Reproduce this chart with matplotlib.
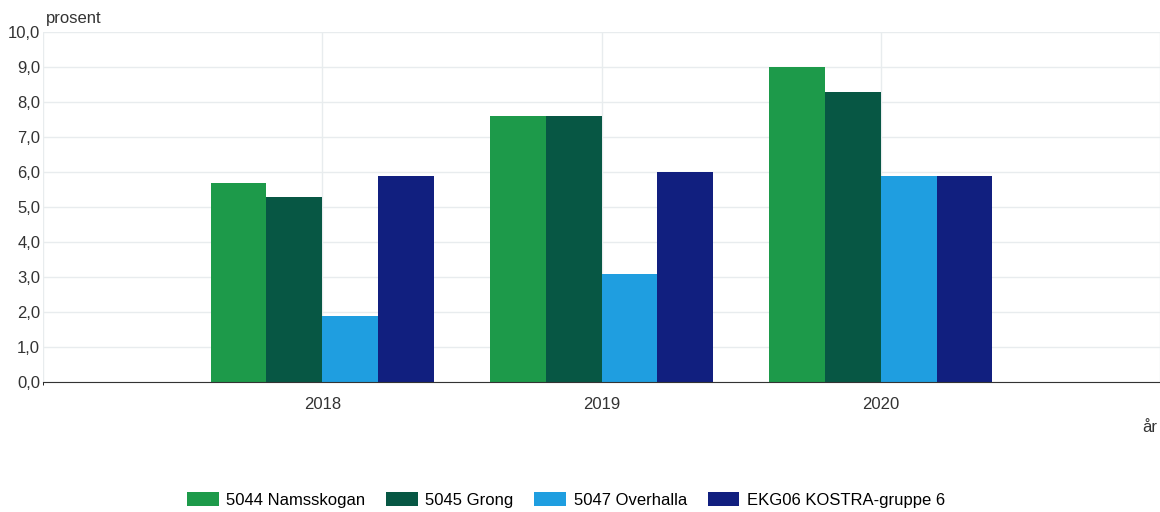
import matplotlib.pyplot as plt
from matplotlib.ticker import MultipleLocator, FuncFormatter
import numpy as np

plt.rcParams['font.family'] = ['Liberation Sans', 'DejaVu Sans']

years = ['2018', '2019', '2020']
series_names = ['5044 Namsskogan', '5045 Grong', '5047 Overhalla', 'EKG06 KOSTRA-gruppe 6']
namsskogan = [5.7, 7.6, 9.0]
grong = [5.3, 7.6, 8.3]
overhalla = [1.9, 3.1, 5.9]
kostra6 = [5.9, 6.0, 5.9]
colors = ['#1d9a4a', '#075744', '#1f9ee0', '#111f7f']

fig = plt.figure(figsize=(11.6, 5.12), dpi=100)
ax = fig.add_axes([43 / 1160, 1 - 382 / 512, 1 - 43 / 1160, 350 / 512])

x = np.arange(len(years))
w = 0.2
for i, (vals, name) in enumerate(zip([namsskogan, grong, overhalla, kostra6], series_names)):
    ax.bar(x + (i - 1.5) * w, vals, w, color=colors[i], label=name, zorder=3)

ax.set_xlim(-1, 3)
ax.set_ylim(0, 10)
ax.yaxis.set_major_locator(MultipleLocator(1))
ax.yaxis.set_major_formatter(FuncFormatter(lambda v, p: f'{v:.1f}'.replace('.', ',')))
ax.set_xticks(x)
ax.set_xticklabels(years)
ax.set_xticks([-1, 3], minor=True)
ax.grid(True, which='both', color='#e8ecee', linewidth=1, zorder=0)
ax.tick_params(length=0, labelsize=12, colors='#333333')
ax.tick_params(axis='x', pad=11)
ax.tick_params(axis='y', pad=2)
for s in ['top', 'right', 'left']:
    ax.spines[s].set_visible(False)
ax.spines['bottom'].set_color('#333333')
ax.spines['bottom'].set_zorder(4)

fig.text(46 / 1160, 1 - 18 / 512, 'prosent', fontsize=12, color='#333333', va='center')
fig.text(1157 / 1160, 1 - 428 / 512, 'år', fontsize=12, color='#333333', va='center', ha='right')

fig.legend(loc='center', bbox_to_anchor=(566 / 1160, 1 - 500 / 512), ncol=4, frameon=False,
           fontsize=12, handlelength=1.9, handleheight=0.85, columnspacing=1.25, handletextpad=0.45,
           borderpad=0, borderaxespad=0)

fig.savefig('out.png', dpi=100)
